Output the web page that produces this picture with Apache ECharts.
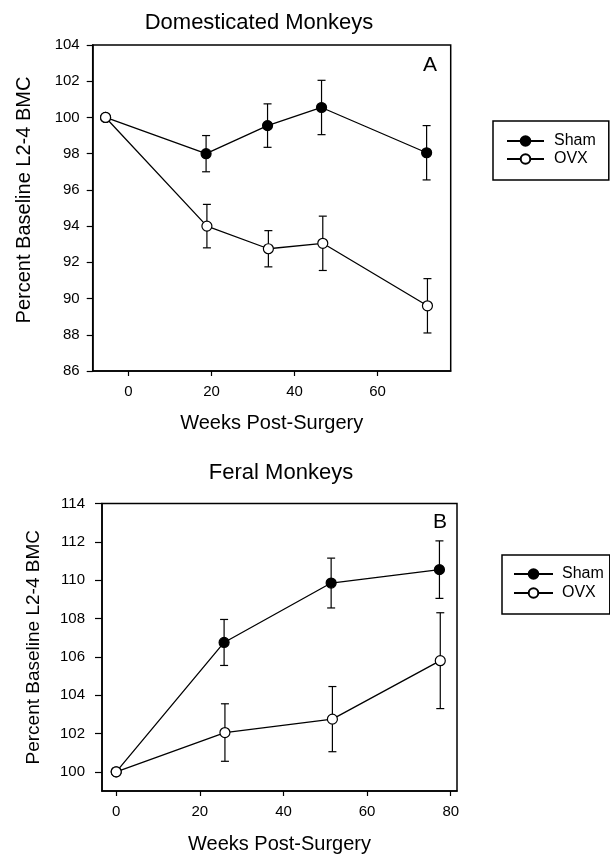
<!DOCTYPE html>
<html>
<head>
<meta charset="utf-8">
<script src="https://cdn.jsdelivr.net/npm/echarts@6/dist/echarts.min.js"></script>
<style>
html,body{margin:0;padding:0;background:#fff;}
#chart{width:610px;height:855px;}
</style>
</head>
<body>
<div id="chart"></div>
<script>
// ---- Data ----
const seriesNames = ['Sham', 'OVX'];

// Panel A: Domesticated Monkeys
const weeksShamA = [-5.5, 18.7, 33.5, 46.5, 71.8];
const shamA      = [100, 98.0, 99.55, 100.55, 98.05];
const shamErrA   = [0, 1.0, 1.2, 1.5, 1.5];
const weeksOvxA  = [-5.5, 18.9, 33.7, 46.8, 72.0];
const ovxA       = [100, 94.0, 92.75, 93.05, 89.6];
const ovxErrA    = [0, 1.2, 1.0, 1.5, 1.5];
const xTicksA    = [0, 20, 40, 60];

// Panel B: Feral Monkeys
const weeksShamB = [0, 25.8, 51.4, 77.3];
const shamB      = [100, 106.75, 109.85, 110.55];
const shamErrB   = [0, 1.2, 1.3, 1.5];
const weeksOvxB  = [0, 26.0, 51.7, 77.5];
const ovxB       = [100, 102.05, 102.75, 105.8];
const ovxErrB    = [0, 1.5, 1.7, 2.5];
const xTicksB    = [0, 20, 40, 60, 80];
const yTicksB    = [100, 102, 104, 106, 108, 110, 112, 114];

// ---- Helpers ----
const FONT = '"Liberation Sans", Arial, Helvetica, sans-serif';
function pts(xs, ys) { return xs.map((x, i) => [x, ys[i]]); }
function errData(xs, ys, es) {
  const out = [];
  xs.forEach((x, i) => { if (es[i] > 0) out.push([x, ys[i] - es[i], ys[i] + es[i]]); });
  return out;
}
function errorRender(params, api) {
  const x = api.value(0), lo = api.value(1), hi = api.value(2);
  const pHi = api.coord([x, hi]);
  const pLo = api.coord([x, lo]);
  const cap = 4;
  const st = { stroke: '#000', lineWidth: 1.2 };
  return {
    type: 'group',
    children: [
      { type: 'line', shape: { x1: pHi[0], y1: pHi[1], x2: pLo[0], y2: pLo[1] }, style: st },
      { type: 'line', shape: { x1: pHi[0] - cap, y1: pHi[1], x2: pHi[0] + cap, y2: pHi[1] }, style: st },
      { type: 'line', shape: { x1: pLo[0] - cap, y1: pLo[1], x2: pLo[0] + cap, y2: pLo[1] }, style: st }
    ]
  };
}
function lineSeries(name, idx, data, filled) {
  return {
    type: 'line', name: name, xAxisIndex: idx, yAxisIndex: idx, data: data,
    symbol: 'circle', symbolSize: 10, z: filled ? 3 : 4,
    lineStyle: { color: '#000', width: 1.3 },
    itemStyle: { color: filled ? '#000' : '#fff', borderColor: '#000', borderWidth: 1.2 },
    emphasis: { disabled: true }, animation: false
  };
}
function errSeries(idx, data) {
  return {
    type: 'custom', xAxisIndex: idx, yAxisIndex: idx, data: data,
    encode: { x: 0, y: [1, 2] }, renderItem: errorRender, z: 2, silent: true, animation: false
  };
}
const axisLineStyle = { show: true, onZero: false, lineStyle: { color: '#000', width: 1.5 } };
const labelStyle = { color: '#000', fontSize: 15, fontFamily: FONT };
const nameStyle = { color: '#000', fontSize: 20, fontFamily: FONT };

function legendFor(left, top, padding, itemWidth, itemGap, textPad) {
  return {
    left: left, top: top, orient: 'vertical', data: seriesNames, selectedMode: false,
    borderColor: '#000', borderWidth: 1.5, borderRadius: 0, padding: padding,
    itemWidth: itemWidth, itemHeight: 12, itemGap: itemGap,
    textStyle: { color: '#000', fontSize: 16, fontFamily: FONT, padding: [0, 0, 0, textPad] }
  };
}

const chart = echarts.init(document.getElementById('chart'), null, { renderer: 'canvas' });
chart.setOption({
  backgroundColor: '#fff',
  animation: false,
  grid: [
    { left: 92.7, top: 45, width: 358, height: 326, show: true, borderColor: '#000', borderWidth: 1.5, backgroundColor: 'transparent' },
    { left: 102, top: 503.5, width: 355, height: 288, show: true, borderColor: '#000', borderWidth: 1.5, backgroundColor: 'transparent' }
  ],
  xAxis: [
    {
      type: 'value', gridIndex: 0, min: -8.6, max: 77.6,
      axisLine: axisLineStyle,
      axisTick: { show: true, inside: false, length: 5, lineStyle: { color: '#000', width: 1.2 }, customValues: xTicksA },
      axisLabel: Object.assign({ margin: 13, customValues: xTicksA }, labelStyle),
      splitLine: { show: false },
      name: 'Weeks Post-Surgery', nameLocation: 'middle', nameGap: 42, nameTextStyle: nameStyle
    },
    {
      type: 'value', gridIndex: 1, min: -3.4, max: 81.5,
      axisLine: axisLineStyle,
      axisTick: { show: true, inside: false, length: 5, lineStyle: { color: '#000', width: 1.2 }, customValues: xTicksB },
      axisLabel: Object.assign({ margin: 13, customValues: xTicksB }, labelStyle),
      splitLine: { show: false },
      name: 'Weeks Post-Surgery', nameLocation: 'middle', nameGap: 43, nameTextStyle: nameStyle
    }
  ],
  yAxis: [
    {
      type: 'value', gridIndex: 0, min: 86, max: 104, interval: 2,
      axisLine: axisLineStyle,
      axisTick: { show: true, inside: false, length: 6, lineStyle: { color: '#000', width: 1.2 } },
      axisLabel: Object.assign({ margin: 13 }, labelStyle),
      splitLine: { show: false },
      name: 'Percent Baseline L2-4 BMC', nameLocation: 'middle', nameGap: 58,
      nameTextStyle: Object.assign({ padding: [0, 0, 0, 16] }, nameStyle)
    },
    {
      type: 'value', gridIndex: 1, min: 99, max: 114,
      axisLine: axisLineStyle,
      axisTick: { show: true, inside: false, length: 7, lineStyle: { color: '#000', width: 1.2 }, customValues: yTicksB },
      axisLabel: Object.assign({ margin: 17, customValues: yTicksB }, labelStyle),
      splitLine: { show: false },
      name: 'Percent Baseline L2-4 BMC', nameLocation: 'middle', nameGap: 59,
      nameTextStyle: Object.assign({}, nameStyle, { fontSize: 19 })
    }
  ],
  legend: [
    legendFor(493, 121, [12, 13, 13, 13], 37, 2, 5),
    legendFor(502, 555, [11, 6, 13, 11], 39, 3, 4)
  ],
  graphic: [
    { type: 'text', x: 259, y: 23, style: { text: 'Domesticated Monkeys', font: '22px ' + FONT, fill: '#000', textAlign: 'center', textVerticalAlign: 'middle' } },
    { type: 'text', x: 281, y: 473, style: { text: 'Feral Monkeys', font: '22px ' + FONT, fill: '#000', textAlign: 'center', textVerticalAlign: 'middle' } },
    { type: 'text', x: 430, y: 65, style: { text: 'A', font: '21px ' + FONT, fill: '#000', textAlign: 'center', textVerticalAlign: 'middle' } },
    { type: 'text', x: 440, y: 522, style: { text: 'B', font: '21px ' + FONT, fill: '#000', textAlign: 'center', textVerticalAlign: 'middle' } }
  ],
  series: [
    errSeries(0, errData(weeksShamA, shamA, shamErrA)),
    errSeries(0, errData(weeksOvxA, ovxA, ovxErrA)),
    lineSeries('Sham', 0, pts(weeksShamA, shamA), true),
    lineSeries('OVX', 0, pts(weeksOvxA, ovxA), false),
    errSeries(1, errData(weeksShamB, shamB, shamErrB)),
    errSeries(1, errData(weeksOvxB, ovxB, ovxErrB)),
    lineSeries('Sham', 1, pts(weeksShamB, shamB), true),
    lineSeries('OVX', 1, pts(weeksOvxB, ovxB), false)
  ]
});
</script>
</body>
</html>
